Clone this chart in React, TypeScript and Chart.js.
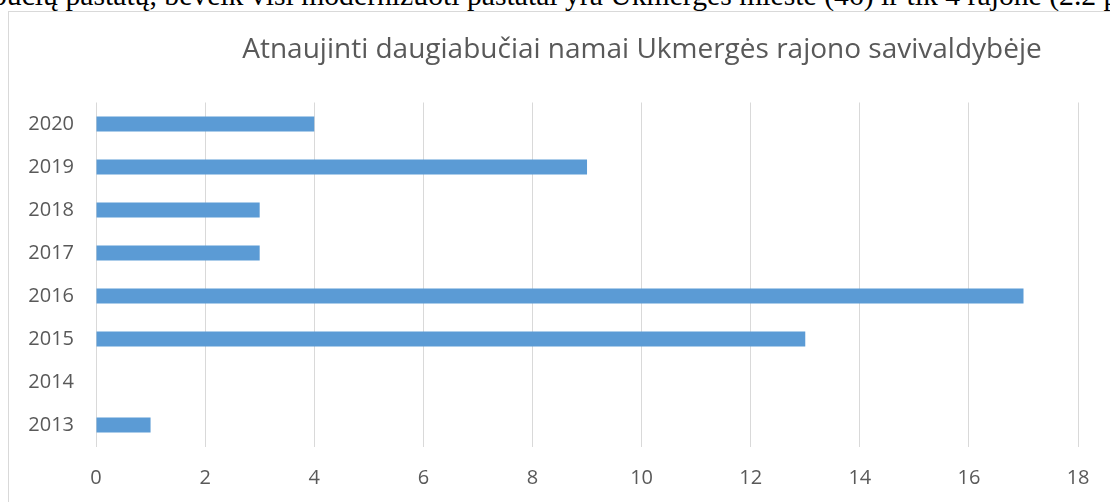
import React, { useEffect, useRef } from "react";
import { Chart, registerables } from "chart.js";

Chart.register(...registerables);

const years = ["2013", "2014", "2015", "2016", "2017", "2018", "2019", "2020"];
const renovated = [1, 0, 13, 17, 3, 3, 9, 4];
const xTicks = [0, 2, 4, 6, 8, 10, 12, 14, 16, 18];
const titleText = "Atnaujinti daugiabučiai namai Ukmergės rajono savivaldybėje";
const docText =
  "bučių pastatų, beveik visi modernizuoti pastatai yra Ukmergės mieste (46) ir tik 4 rajone (2.2 pav.).";

export default function App() {
  const canvasRef = useRef<HTMLCanvasElement | null>(null);

  useEffect(() => {
    document.body.style.overflow = "hidden";
    document.documentElement.style.overflow = "hidden";
    const ctx = canvasRef.current;
    if (!ctx) return;
    const chart = new Chart(ctx, {
      type: "bar",
      data: {
        labels: years,
        datasets: [
          {
            data: renovated,
            backgroundColor: "#5B9BD5",
            borderWidth: 0,
            categoryPercentage: 0.35,
            barPercentage: 1,
          },
        ],
      },
      options: {
        indexAxis: "y",
        animation: false,
        responsive: false,
        maintainAspectRatio: false,
        layout: { padding: { left: 0, right: 30, top: 90.5, bottom: 0 } },
        plugins: {
          legend: { display: false },
          tooltip: { enabled: false },
          title: { display: false },
        },
        scales: {
          x: {
            min: 0,
            max: 18,
            afterBuildTicks: (scale: any) => {
              scale.ticks = xTicks.map((v) => ({ value: v }));
            },
            afterFit: (scale: any) => {
              scale.height = 55.5;
            },
            grid: { color: "#d9d9d9", lineWidth: 1, drawTicks: false },
            border: { display: false },
            ticks: {
              color: "#595959",
              font: { family: "'Open Sans'", size: 20 },
              padding: 19.5,
            },
          },
          y: {
            reverse: true,
            afterFit: (scale: any) => {
              scale.width = 87;
            },
            grid: { display: false, drawTicks: false },
            border: { display: false },
            ticks: {
              color: "#595959",
              font: { family: "'Open Sans'", size: 20 },
              padding: 22,
            },
          },
        },
      },
    });
    return () => chart.destroy();
  }, []);

  return (
    <div
      style={{
        position: "fixed",
        left: 0,
        top: 0,
        width: 1110,
        height: 502,
        overflow: "hidden",
        background: "#fff",
      }}
    >
      <div
        style={{
          position: "absolute",
          left: -8,
          top: -19,
          whiteSpace: "nowrap",
          fontFamily: "'Liberation Serif', serif",
          fontSize: 29.7,
          lineHeight: "29.7px",
          color: "#000",
        }}
      >
        {docText}
      </div>
      <div
        style={{
          position: "absolute",
          left: 8,
          top: 11,
          width: 1102,
          height: 491,
          borderTop: "1px solid #d9d9d9",
          borderLeft: "1px solid #d9d9d9",
          background: "#fff",
          overflow: "hidden",
        }}
      >
        <canvas
          ref={canvasRef}
          width={1100}
          height={490}
          style={{ display: "block" }}
        />
        <div
          style={{
            position: "absolute",
            left: 0,
            width: 1266,
            top: 18,
            height: 34,
            lineHeight: "34px",
            textAlign: "center",
            fontFamily: "'Open Sans'",
            fontSize: 28,
            color: "#595959",
            whiteSpace: "nowrap",
          }}
        >
          {titleText}
        </div>
      </div>
    </div>
  );
}
